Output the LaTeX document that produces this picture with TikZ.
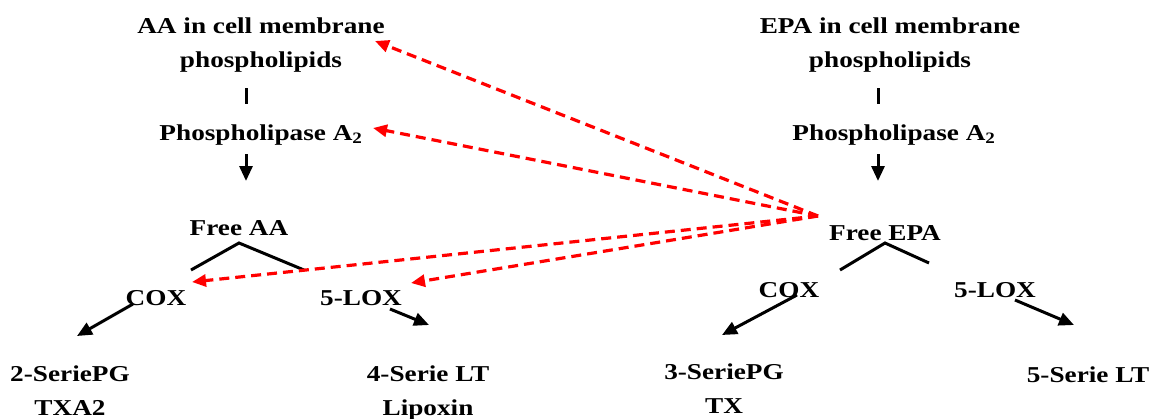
\documentclass[tikz,border=0pt]{standalone}
\usepackage{fontspec}
\setmainfont{Liberation Serif}[FakeStretch=1.2]
\usetikzlibrary{arrows.meta}
\begin{document}
\begin{tikzpicture}[x=1pt,y=-1pt,
  lbl/.style={font=\bfseries\fontsize{22.7}{34}\selectfont, inner sep=0pt, align=center, anchor=base},
  flow/.style={line width=3pt, -{Triangle[length=15pt,width=13pt]}},
  link/.style={line width=3pt},
  inhib/.style={red, line width=3.2pt, dash pattern=on 10pt off 6pt, -{Triangle[length=14pt,width=12pt]}}]
\useasboundingbox (0,0) rectangle (1157,418);

% arachidonic acid cascade (multi-line labels sit on their last baseline)
\node[lbl] (aamem) at (261,67) {AA in cell membrane\\phospholipids};
\node[lbl] (aapla) at (261,140) {Phospholipase A\textsubscript{2}};
\node[lbl] (aafree) at (239,235.5) {Free AA};
\node[lbl] (aacox) at (156,305) {COX};
\node[lbl] (aalox) at (361,305) {5-LOX};
\node[lbl] (aapg) at (70,415) {2-SeriePG\\TXA2};
\node[lbl] (aalt) at (428,415) {4-Serie LT\\Lipoxin};

% eicosapentaenoic acid cascade
\node[lbl] (epamem) at (890,67) {EPA in cell membrane\\phospholipids};
\node[lbl] (epapla) at (894,140) {Phospholipase A\textsubscript{2}};
\node[lbl] (epafree) at (885,240) {Free EPA};
\node[lbl] (epacox) at (789,297) {COX};
\node[lbl] (epalox) at (995,297) {5-LOX};
\node[lbl] (epapg) at (724,413) {3-SeriePG\\TX};
\node[lbl] (epalt) at (1088,382) {5-Serie LT};

% connector end points
\coordinate (aatickA) at (246,88);
\coordinate (aatickB) at (246,104);
\coordinate (aadownA) at (246,154);
\coordinate (aadownB) at (246,181);
\coordinate (aaapex) at (239,243);
\coordinate (aaleft) at (191,270);
\coordinate (aaright) at (304,270);
\coordinate (aacoxA) at (133,304);
\coordinate (aacoxB) at (77,336);
\coordinate (aaloxA) at (390,309);
\coordinate (aaloxB) at (429,325);

\coordinate (epatickA) at (878,88);
\coordinate (epatickB) at (878,104);
\coordinate (epadownA) at (878,154);
\coordinate (epadownB) at (878,181);
\coordinate (epaapex) at (885,243);
\coordinate (epaleft) at (840,270);
\coordinate (eparight) at (929,263);
\coordinate (epacoxA) at (797,295);
\coordinate (epacoxB) at (722,335);
\coordinate (epaloxA) at (1015,300);
\coordinate (epaloxB) at (1074,325);

% EPA competition links
\coordinate (hub) at (818,216);
\coordinate (tgmem) at (375,41);
\coordinate (tgpla) at (373,128);
\coordinate (tgcox) at (192,282);
\coordinate (tglox) at (411,283);

% black flow lines
\draw[link] (aatickA) -- (aatickB);
\draw[flow] (aadownA) -- (aadownB);
\draw[link] (aaleft) -- (aaapex) -- (aaright);
\draw[flow] (aacoxA) -- (aacoxB);
\draw[flow] (aaloxA) -- (aaloxB);

\draw[link] (epatickA) -- (epatickB);
\draw[flow] (epadownA) -- (epadownB);
\draw[link] (epaleft) -- (epaapex) -- (eparight);
\draw[flow] (epacoxA) -- (epacoxB);
\draw[flow] (epaloxA) -- (epaloxB);

% red dashed links
\draw[inhib] (hub) -- (tgmem);
\draw[inhib] (hub) -- (tgpla);
\draw[inhib] (hub) -- (tgcox);
\draw[inhib] (hub) -- (tglox);
\end{tikzpicture}
\end{document}
